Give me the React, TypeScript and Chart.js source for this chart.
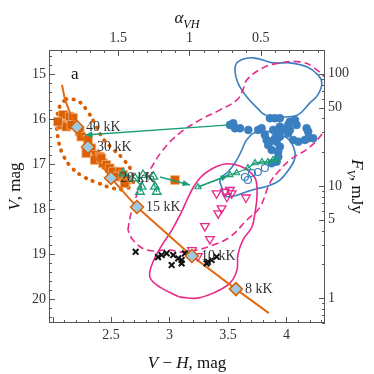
import React, { useEffect, useRef } from "react";
import { Chart, registerables } from "chart.js";

Chart.register(...registerables);

type P = [number, number];

// ---- axes ----
const VH_MIN = 1.97;
const VH_MAX = 4.33;
const V_MIN = 14.47;
const V_MAX = 20.53;
const ALPHA_LEFT = 1.987; // alpha_VH at left edge
const ALPHA_RIGHT = 0.048; // alpha_VH at right edge
const F_AT_V15 = 100; // mJy at V = 15

const X_TICKS = [2.5, 3, 3.5, 4];
const V_TICKS = [15, 16, 17, 18, 19, 20];
const F_TICKS = [1, 5, 10, 50, 100];
const ALPHA_TICKS = [0.5, 1, 1.5];

const fluxOf = (v: number) => F_AT_V15 * Math.pow(10, -0.4 * (v - 15));

// ---- data (V-H, V) ----
const TRACK: P[] = [
  [2.081, 15.244], [2.107, 15.578], [2.15, 15.867], [2.209, 16.178], [2.303, 16.622],
  [2.5, 17.311], [2.722, 17.956], [3.192, 19.044], [3.568, 19.778], [3.85, 20.311],
];
const TEMP_LABELS = ["40 kK", "30 kK", "20 kK", "15 kK", "10 kK", "8 kK"];
const TEMP_POINTS: P[] = [
  [2.209, 16.178], [2.303, 16.622], [2.5, 17.311], [2.722, 17.956], [3.192, 19.044], [3.568, 19.778],
];

const ORANGE_SQUARES: P[] = [
  [2.09, 15.911], [2.147, 15.949], [2.075, 16.133], [2.118, 16.171], [2.175, 15.978],
  [2.161, 16.133], [2.232, 16.282], [2.246, 16.393], [2.303, 16.467], [2.332, 16.651],
  [2.289, 16.762], [2.374, 16.8], [2.403, 16.838], [2.361, 16.911], [2.432, 16.984],
  [2.417, 16.873], [2.46, 17.022], [2.489, 17.096], [2.517, 17.171], [2.574, 17.171],
  [2.545, 17.282], [2.603, 17.244], [2.631, 17.356], [2.617, 17.429], [3.047, 17.356],
  [2.047, 16.06],
];

const ORANGE_ELLIPSE: P[] = [
  [2.115, 15.556], [2.218, 15.6], [2.303, 15.844], [2.372, 16.156], [2.44, 16.467],
  [2.526, 16.689], [2.611, 16.911], [2.679, 17.178], [2.688, 17.422], [2.62, 17.556],
  [2.509, 17.533], [2.389, 17.422], [2.269, 17.289], [2.167, 17.089], [2.09, 16.8],
  [2.047, 16.422], [2.038, 16.022], [2.064, 15.711], [2.115, 15.556],
];

const BLUE_DOTS: P[] = [
  [3.517, 16.133], [3.545, 16.096], [3.56, 16.207], [3.603, 16.207], [3.674, 16.244],
  [3.759, 16.244], [3.788, 16.207], [3.859, 15.984], [3.902, 15.984], [3.944, 15.984],
  [3.887, 16.244], [3.93, 16.244], [3.916, 16.318], [3.944, 16.171], [3.987, 16.244],
  [4.03, 16.06], [4.073, 16.022], [4.087, 16.133], [4.03, 16.244], [4.015, 16.318],
  [3.816, 16.356], [3.831, 16.467], [3.844, 16.578], [3.859, 16.504], [3.902, 16.429],
  [3.944, 16.393], [3.916, 16.504], [3.944, 16.616], [3.93, 16.727], [3.874, 16.689],
  [3.93, 16.838], [3.916, 16.949], [3.874, 16.984], [4.058, 16.467], [4.101, 16.504],
  [4.158, 16.467], [4.186, 16.429], [4.229, 16.429], [4.173, 16.207], [4.186, 16.282],
  [4.015, 16.133],
];
const BLUE_OPEN: P[] = [
  [3.645, 17.289], [3.671, 17.356], [3.756, 17.178], [3.705, 17.2], [3.816, 17.089],
];

const BLUE_CONTOUR_TOP: P[] = [
  [3.791, 15.867], [3.662, 15.511], [3.585, 15.2], [3.56, 14.911], [3.585, 14.733],
  [3.714, 14.644], [3.885, 14.756], [4.03, 14.756], [4.175, 14.844], [4.269, 15.022],
  [4.303, 15.2], [4.269, 15.467], [4.201, 15.644], [4.098, 15.911], [3.987, 15.956],
  [3.859, 15.956], [3.791, 15.867],
];
const BLUE_CONTOUR_LOW: P[] = [
  [3.705, 16.333], [3.791, 16.267], [3.902, 16.311], [4.004, 16.422], [4.064, 16.644],
  [4.073, 16.867], [4.03, 17.089], [3.944, 17.356], [3.842, 17.489], [3.739, 17.556],
  [3.654, 17.622], [3.551, 17.711], [3.474, 17.711], [3.449, 17.533], [3.432, 17.333],
  [3.5, 17.178], [3.56, 16.978], [3.611, 16.733], [3.654, 16.489], [3.705, 16.333],
];

const PINK_DASHED: P[] = [
  [2.645, 18.467], [2.662, 18.2], [2.688, 17.956], [2.748, 17.511], [2.833, 17.133],
  [2.944, 16.689], [3.09, 16.311], [3.261, 16.022], [3.432, 15.8], [3.577, 15.578],
  [3.628, 15.356], [3.662, 15.133], [3.799, 14.867], [3.944, 14.756], [4.115, 14.733],
  [4.226, 14.844], [4.372, 15.244], [4.415, 15.8], [4.329, 16.244], [4.201, 16.622],
  [4.03, 16.911], [3.944, 17.133], [3.859, 17.422], [3.774, 17.956], [3.662, 18.244],
  [3.517, 18.622], [3.372, 18.8], [3.235, 18.911], [3.09, 18.956], [3.004, 18.911],
  [2.808, 18.911], [2.688, 18.689], [2.645, 18.467],
];
const PINK_SOLID: P[] = [
  [3.09, 19.956], [3.235, 19.978], [3.372, 19.867], [3.517, 19.644], [3.577, 19.356],
  [3.585, 19.022], [3.628, 18.689], [3.705, 18.4], [3.731, 18.089], [3.748, 17.733],
  [3.739, 17.356], [3.688, 17.178], [3.603, 17.044], [3.474, 17.0], [3.346, 17.133],
  [3.261, 17.311], [3.201, 17.533], [3.15, 17.8], [3.09, 18.133], [3.021, 18.467],
  [2.936, 18.8], [2.859, 19.178], [2.833, 19.511], [2.919, 19.733], [3.09, 19.956],
];
const PINK_TRIANGLES: P[] = [
  [3.403, 17.651], [3.474, 17.616], [3.517, 17.578], [3.532, 17.651], [3.491, 17.727],
  [3.446, 17.984], [3.417, 18.096], [3.654, 17.744], [3.303, 18.378], [3.346, 18.667],
  [3.192, 18.911], [3.244, 19.044],
];

const CROSSES: P[] = [
  [2.711, 18.949], [2.933, 19.022], [2.976, 18.984], [3.032, 19.022], [3.019, 19.244],
  [3.075, 19.096], [3.104, 19.133], [3.132, 18.984], [3.104, 19.207], [3.318, 19.207],
  [3.361, 19.133], [3.403, 19.06], [3.329, 19.171], [2.902, 19.067],
];

const GREEN_ARROW_1: P[] = [[3.517, 16.133], [2.278, 16.356]];
const GREEN_TRI_A: P[] = [[2.605, 17.207], [2.705, 17.318], [2.762, 17.504], [2.748, 17.616]];
const GREEN_TRI_B: P[] = [[2.774, 17.244], [2.862, 17.282], [2.876, 17.504], [2.891, 17.616]];
const GREEN_ARROW_2: P[] = [[2.919, 17.289], [3.175, 17.467]];
const GREEN_ARROW_3: P[] = [[3.244, 17.511], [3.5, 17.26]];
const GREEN_TRI_C: P[] = [
  [3.244, 17.511], [3.517, 17.244], [3.574, 17.2], [3.671, 17.089], [3.731, 16.978],
  [3.791, 16.956], [3.842, 16.956], [3.885, 16.911], [3.919, 16.911],
];

// ---- colours ----
const ORANGE = "#d95f02";
const BLUE = "#3a7fc0";
const PINK = "#e7298a";
const TEAL = "#1b9e77";
const DIAMOND_FILL = "#9ecae1";
const SERIF = '"Liberation Serif", "DejaVu Serif", serif';

const pts = (a: P[]) => a.map(([x, y]) => ({ x, y }));

type Part = { t: string; italic?: boolean; sub?: boolean };
function drawRich(ctx: CanvasRenderingContext2D, parts: Part[], size: number) {
  const m = parts.map((p) => {
    const fs = p.sub ? size * 0.72 : size;
    ctx.font = `${p.italic ? "italic " : ""}${fs}px ${SERIF}`;
    return { ...p, fs, w: ctx.measureText(p.t).width };
  });
  const total = m.reduce((s, p) => s + p.w, 0);
  let x = -total / 2;
  ctx.textAlign = "left";
  ctx.textBaseline = "alphabetic";
  for (const p of m) {
    ctx.font = `${p.italic ? "italic " : ""}${p.fs}px ${SERIF}`;
    ctx.fillText(p.t, x, size * 0.35 + (p.sub ? size * 0.28 : 0));
    x += p.w;
  }
}

const decorPlugin = {
  id: "decor",
  afterDatasetsDraw(chart: any) {
    const { ctx } = chart;
    chart.data.datasets.forEach((ds: any, i: number) => {
      if (!ds.arrowHead) return;
      const meta = chart.getDatasetMeta(i);
      const n = meta.data.length;
      if (n < 2) return;
      const a = meta.data[n - 2];
      const b = meta.data[n - 1];
      const ang = Math.atan2(b.y - a.y, b.x - a.x);
      const L = 8;
      ctx.save();
      ctx.fillStyle = ds.borderColor;
      ctx.beginPath();
      ctx.moveTo(b.x, b.y);
      ctx.lineTo(b.x - L * Math.cos(ang - 0.4), b.y - L * Math.sin(ang - 0.4));
      ctx.lineTo(b.x - L * Math.cos(ang + 0.4), b.y - L * Math.sin(ang + 0.4));
      ctx.closePath();
      ctx.fill();
      ctx.restore();
    });
  },
  afterDraw(chart: any) {
    const { ctx, chartArea: a, scales } = chart;
    const x = scales.x, y = scales.y, x2 = scales.x2, y2 = scales.y2;
    ctx.save();
    ctx.strokeStyle = "#555";
    ctx.lineWidth = 1;
    ctx.strokeRect(a.left + 0.5, a.top + 0.5, a.right - a.left - 1, a.bottom - a.top - 1);
    const MAJ = 6, MIN = 3;
    ctx.beginPath();
    for (let k = 20; k <= 43; k++) {
      const px = Math.round(x.getPixelForValue(k / 10)) + 0.5;
      const len = k % 5 === 0 ? MAJ : MIN;
      ctx.moveTo(px, a.bottom); ctx.lineTo(px, a.bottom - len);
    }
    for (let k = 1; k <= 19; k++) {
      const px = Math.round(x2.getPixelForValue(k / 10)) + 0.5;
      const len = k % 5 === 0 ? MAJ : MIN;
      ctx.moveTo(px, a.top); ctx.lineTo(px, a.top + len);
    }
    for (let k = 73; k <= 102; k++) {
      const py = Math.round(y.getPixelForValue(k / 5)) + 0.5;
      const len = k % 5 === 0 ? MAJ : MIN;
      ctx.moveTo(a.left, py); ctx.lineTo(a.left + len, py);
    }
    for (const dec of [0.1, 1, 10, 100]) {
      for (let k = 1; k <= 9; k++) {
        const f = dec * k;
        if (f < y2.min || f > y2.max) continue;
        const py = Math.round(y2.getPixelForValue(f)) + 0.5;
        const len = F_TICKS.some((t) => Math.abs(t - f) < 1e-9) ? MAJ : MIN;
        ctx.moveTo(a.right, py); ctx.lineTo(a.right - len, py);
      }
    }
    ctx.stroke();

    ctx.fillStyle = "#333";
    ctx.font = `14px ${SERIF}`;
    ctx.textAlign = "left";
    ctx.textBaseline = "middle";
    TEMP_POINTS.forEach(([vx, vy], i) => {
      ctx.fillText(TEMP_LABELS[i], x.getPixelForValue(vx) + 9, y.getPixelForValue(vy));
    });
    ctx.font = `17px ${SERIF}`;
    ctx.fillStyle = "#111";
    ctx.fillText("a", a.left + 22, a.top + 25);

    ctx.fillStyle = "#111";
    ctx.save();
    ctx.translate((a.left + a.right) / 2, 362);
    drawRich(ctx, [{ t: "V", italic: true }, { t: " − " }, { t: "H", italic: true }, { t: ", mag" }], 17);
    ctx.restore();
    ctx.save();
    ctx.translate((a.left + a.right) / 2, 17);
    drawRich(ctx, [{ t: "α", italic: true }, { t: "VH", italic: true, sub: true }], 17);
    ctx.restore();
    ctx.save();
    ctx.translate(14, (a.top + a.bottom) / 2);
    ctx.rotate(-Math.PI / 2);
    drawRich(ctx, [{ t: "V", italic: true }, { t: ", mag" }], 17);
    ctx.restore();
    ctx.save();
    ctx.translate(358, (a.top + a.bottom) / 2);
    ctx.rotate(Math.PI / 2);
    drawRich(ctx, [{ t: "F", italic: true }, { t: "V", italic: true, sub: true }, { t: ", mJy" }], 17);
    ctx.restore();
    ctx.restore();
  },
};

const tickFont = { family: SERIF, size: 14 };
const noGrid = { display: false, drawTicks: false };
const fmt = (v: any) => String(Math.round(Number(v) * 100) / 100);

export default function App() {
  const ref = useRef<HTMLCanvasElement | null>(null);
  useEffect(() => {
    document.body.style.margin = "0";
    if (!ref.current) return;
    const line = (data: P[], color: string, width: number, extra: any = {}) => ({
      data: pts(data), showLine: true, borderColor: color, borderWidth: width,
      pointRadius: 0, pointHoverRadius: 0, backgroundColor: color, fill: false, ...extra,
    });
    const chart = new Chart(ref.current, {
      type: "scatter",
      data: {
        datasets: [
          { data: pts(TEMP_POINTS), pointStyle: "rectRot", pointRadius: 6.5, backgroundColor: DIAMOND_FILL,
            borderColor: ORANGE, borderWidth: 1.5, order: 0 },
          { ...line(GREEN_ARROW_1, TEAL, 1.4), arrowHead: true, order: 1 },
          { ...line(GREEN_ARROW_2, TEAL, 1.4), arrowHead: true, order: 1 },
          { ...line(GREEN_ARROW_3, TEAL, 1.4), arrowHead: true, order: 1 },
          { ...line(GREEN_TRI_A, TEAL, 1.3), pointStyle: "triangle", pointRadius: 5,
            backgroundColor: "rgba(0,0,0,0)", pointBorderWidth: 1.3, order: 1 },
          { ...line(GREEN_TRI_B, TEAL, 1.3), pointStyle: "triangle", pointRadius: 5,
            backgroundColor: "rgba(0,0,0,0)", pointBorderWidth: 1.3, order: 1 },
          { ...line(GREEN_TRI_C, TEAL, 1.3), pointStyle: "triangle", pointRadius: 3.5,
            backgroundColor: "rgba(0,0,0,0)", pointBorderWidth: 1.2, order: 1 },
          { data: pts(BLUE_OPEN), pointStyle: "circle", pointRadius: 3.5, backgroundColor: "rgba(0,0,0,0)",
            borderColor: BLUE, borderWidth: 1.2, order: 2 },
          { data: pts(BLUE_DOTS), pointStyle: "circle", pointRadius: 4, backgroundColor: BLUE,
            borderColor: BLUE, borderWidth: 0.5, order: 2 },
          { data: pts(PINK_TRIANGLES), pointStyle: "triangle", rotation: 180, pointRadius: 5,
            backgroundColor: "rgba(0,0,0,0)", borderColor: PINK, borderWidth: 1.3, order: 3 },
          { data: pts(CROSSES), pointStyle: "crossRot", pointRadius: 4, borderColor: "#111",
            backgroundColor: "#111", borderWidth: 2, order: 3 },
          { ...line(TRACK, "#e26a12", 2), order: 4 },
          { data: pts(ORANGE_SQUARES), pointStyle: "rect", pointRadius: 6.2, backgroundColor: ORANGE,
            borderColor: "#f2b07e", borderWidth: 0.8, order: 5 },
          { ...line(ORANGE_ELLIPSE, ORANGE, 3.8), borderDash: [0.5, 7], borderCapStyle: "round", tension: 0.4, order: 6 },
          { ...line(PINK_DASHED, PINK, 1.6), borderDash: [7, 4], tension: 0.4, order: 7 },
          { ...line(PINK_SOLID, PINK, 1.6), tension: 0.4, order: 7 },
          { ...line(BLUE_CONTOUR_TOP, BLUE, 1.6), tension: 0.4, order: 7 },
          { ...line(BLUE_CONTOUR_LOW, BLUE, 1.6), tension: 0.4, order: 7 },
        ] as any,
      },
      options: {
        animation: false,
        responsive: false,
        events: [],
        layout: { padding: 0 },
        plugins: { legend: { display: false }, tooltip: { enabled: false } },
        scales: {
          x: {
            type: "linear", position: "bottom", min: VH_MIN, max: VH_MAX,
            grid: noGrid, border: { display: false },
            ticks: { font: tickFont, color: "#333", padding: 4, autoSkip: false, maxRotation: 0, callback: fmt },
            afterBuildTicks: (s: any) => { s.ticks = X_TICKS.map((value) => ({ value })); },
            afterFit: (s: any) => { s.height = 51; },
          },
          x2: {
            type: "linear", position: "top", reverse: true, min: ALPHA_RIGHT, max: ALPHA_LEFT,
            grid: noGrid, border: { display: false },
            ticks: { font: tickFont, color: "#333", padding: 3, autoSkip: false, maxRotation: 0, callback: fmt },
            afterBuildTicks: (s: any) => { s.ticks = ALPHA_TICKS.map((value) => ({ value })); },
            afterFit: (s: any) => { s.height = 50; },
          },
          y: {
            type: "linear", position: "left", reverse: true, min: V_MIN, max: V_MAX,
            grid: noGrid, border: { display: false },
            ticks: { font: tickFont, color: "#333", padding: 3, autoSkip: false, callback: fmt },
            afterBuildTicks: (s: any) => { s.ticks = V_TICKS.map((value) => ({ value })); },
            afterFit: (s: any) => { s.width = 49; },
          },
          y2: {
            type: "logarithmic", position: "right", min: fluxOf(V_MAX), max: fluxOf(V_MIN),
            grid: noGrid, border: { display: false },
            ticks: { font: tickFont, color: "#333", padding: 3, autoSkip: false, callback: fmt },
            afterBuildTicks: (s: any) => { s.ticks = F_TICKS.map((value) => ({ value })); },
            afterFit: (s: any) => { s.width = 49; },
          },
        },
      } as any,
      plugins: [decorPlugin],
    });
    return () => chart.destroy();
  }, []);
  return (
    <div style={{ width: 374, height: 374 }}>
      <canvas ref={ref} width={374} height={374} style={{ display: "block" }} />
    </div>
  );
}
